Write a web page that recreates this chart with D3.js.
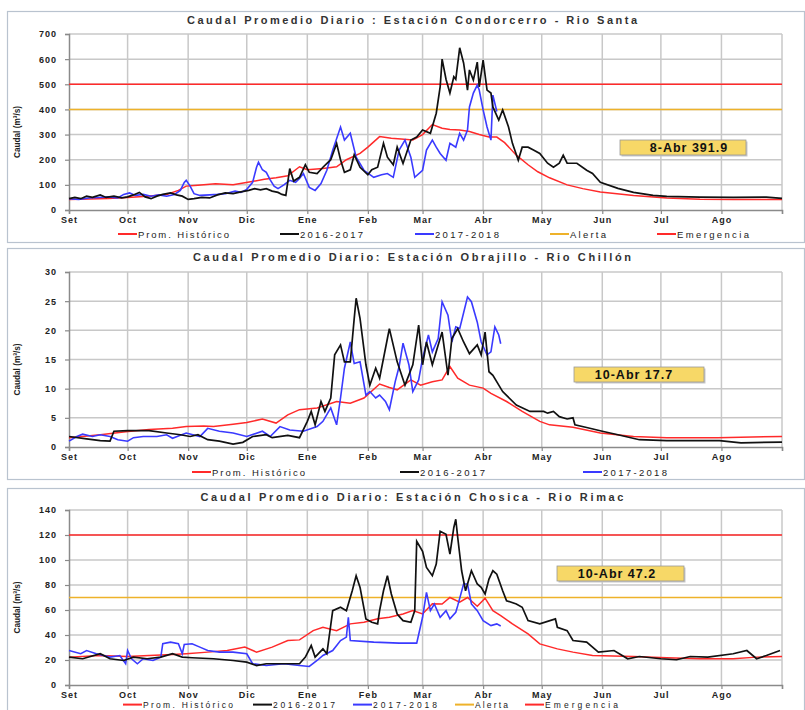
<!DOCTYPE html>
<html>
<head>
<meta charset="utf-8">
<script src="https://cdn.jsdelivr.net/npm/d3@7"></script>
<style>
body { margin: 0; background: #fff; }
svg text { font-family: "Liberation Sans", Arial, sans-serif; }
</style>
</head>
<body>
<svg width="805" height="710"></svg>
<script>
// month labels (season Sep -> Aug)
var months = ["Set", "Oct", "Nov", "Dic", "Ene", "Feb", "Mar", "Abr", "May", "Jun", "Jul", "Ago"];

// [day since 1 Set, value]  -- Condorcerro / Rio Santa
var santaHist = [[0,42],[10,44],[20,46],[30,50],[40,55],[50,62],[56,78],[60,95],[66,98],[75,104],[84,100],[93,112],[100,122],[106,128],[112,136],[118,172],[122,160],[130,165],[137,172],[142,200],[149,225],[153,250],[159,292],[165,285],[170,282],[176,278],[181,300],[186,340],[191,325],[195,320],[200,318],[205,312],[210,300],[215,290],[219,290],[223,268],[229,218],[235,180],[240,152],[246,128],[255,100],[263,85],[272,72],[289,58],[306,48],[323,43],[340,42],[365,42]];
var santa1617 = [[0,45],[3,50],[6,45],[9,55],[12,50],[16,60],[19,50],[23,55],[27,48],[30,52],[33,60],[36,70],[39,52],[42,45],[45,55],[48,62],[52,68],[55,60],[58,55],[61,42],[64,45],[68,50],[72,48],[76,60],[80,68],[84,65],[88,72],[92,78],[95,85],[98,80],[101,85],[104,75],[107,70],[109,62],[111,58],[113,165],[115,115],[118,130],[121,180],[123,150],[127,145],[130,170],[134,200],[137,265],[139,200],[141,150],[144,160],[146,220],[149,170],[153,140],[155,160],[158,170],[161,265],[163,210],[166,180],[168,250],[171,185],[175,278],[178,290],[181,318],[185,305],[188,385],[190,490],[191,600],[193,520],[195,465],[197,530],[198,520],[200,645],[202,585],[204,477],[205,557],[207,517],[209,588],[210,490],[212,596],[214,477],[216,465],[217,410],[220,358],[222,398],[225,330],[227,265],[230,198],[232,250],[235,250],[238,238],[241,225],[245,186],[248,170],[251,186],[253,218],[255,186],[260,186],[265,158],[268,145],[272,110],[281,86],[289,70],[299,58],[306,54],[323,51],[340,50],[357,51],[365,46]];
var santa1718 = [[0,45],[5,42],[10,48],[15,50],[20,52],[25,48],[28,62],[31,68],[34,58],[38,62],[42,55],[46,60],[50,55],[54,62],[57,78],[59,110],[60,118],[62,95],[64,65],[67,58],[72,60],[76,62],[80,65],[85,75],[88,70],[91,82],[94,110],[96,170],[97,190],[99,160],[101,150],[103,120],[105,95],[107,85],[110,100],[113,118],[116,110],[118,125],[120,145],[123,90],[126,78],[129,105],[132,158],[135,238],[139,330],[141,278],[144,305],[147,210],[151,158],[156,130],[160,140],[163,145],[166,130],[169,238],[172,278],[175,210],[177,130],[181,158],[183,238],[186,278],[188,250],[190,225],[193,198],[195,265],[198,250],[200,305],[202,278],[204,318],[205,410],[207,465],[209,497],[210,477],[212,398],[214,330],[216,278],[217,457],[219,392]];

// Obrajillo / Rio Chillon
var chillonHist = [[0,1.6],[16,2.1],[29,2.6],[41,3.0],[53,3.2],[60,3.5],[69,3.6],[74,3.5],[84,3.9],[91,4.2],[99,4.8],[106,4.1],[112,5.5],[118,6.4],[127,6.7],[137,7.8],[144,7.5],[151,8.4],[159,10.8],[164,10.2],[168,9.8],[175,11.5],[180,10.6],[186,11.2],[191,11.5],[195,13.8],[199,11.8],[205,10.6],[212,10.1],[216,9.2],[224,7.8],[232,6.1],[241,4.4],[246,3.8],[258,3.4],[272,2.4],[289,1.8],[306,1.6],[332,1.6],[365,1.8]];
var chillon1617 = [[0,1.8],[9,1.4],[16,1.1],[21,1.0],[23,2.7],[30,2.8],[41,2.8],[50,2.4],[57,2.1],[62,1.8],[66,2.1],[71,1.25],[77,1.0],[84,0.5],[89,0.8],[94,1.8],[101,2.1],[104,1.6],[112,2.0],[118,1.6],[122,4.4],[124,6.1],[126,3.8],[129,7.8],[131,6.1],[134,8.4],[136,15.8],[139,17.5],[141,14.6],[144,14.6],[146,22],[147,25.5],[149,22.0],[152,14.1],[154,10.6],[157,13.5],[159,11.8],[163,18.6],[164,20.3],[168,14.6],[172,10.6],[176,14.1],[179,20.9],[181,14.1],[183,18.0],[186,14.1],[189,17.5],[191,19.7],[194,12.3],[196,18.6],[199,20.3],[202,18.0],[205,16.0],[209,17.5],[211,15.8],[213,19.7],[215,12.9],[217,12.3],[222,9.5],[229,7.2],[236,6.1],[243,6.1],[245,5.8],[248,6.1],[251,5.2],[255,4.8],[258,5.0],[259,3.8],[265,3.35],[273,2.7],[281,2.1],[292,1.25],[306,1.1],[333,1.1],[344,0.7],[365,0.85]];
var chillon1718 = [[0,1.0],[4,1.8],[7,2.2],[12,1.8],[16,2.1],[21,1.8],[25,1.25],[30,1.0],[33,1.6],[38,1.8],[45,1.8],[50,2.1],[53,1.5],[57,2.0],[60,2.4],[67,1.8],[71,3.2],[77,2.7],[84,2.4],[91,1.8],[99,2.7],[103,1.8],[108,3.5],[113,2.9],[120,2.7],[127,3.5],[130,4.4],[134,6.7],[137,3.8],[139,8.4],[141,13.5],[144,18.0],[146,14.3],[149,14.6],[152,8.9],[154,9.5],[157,8.4],[159,8.9],[162,7.8],[164,6.4],[167,11.2],[169,13.8],[171,17.8],[174,14.1],[176,9.5],[179,11.5],[181,15.2],[184,19.2],[186,16.3],[189,18.6],[191,24.9],[194,22.6],[196,18.0],[198,20.6],[200,20.3],[204,25.7],[206,24.9],[209,21.4],[211,18.0],[214,15.8],[216,16.3],[218,20.6],[220,19.2],[221,17.7]];

// Chosica / Rio Rimac
var rimacHist = [[0,22.3],[16,23.6],[30,22.8],[41,23.6],[53,24.4],[60,25.0],[71,26.3],[81,27.6],[90,30.3],[96,26.3],[104,30.3],[112,35.6],[118,36.1],[125,43.5],[130,46.2],[137,43.5],[144,48.9],[151,50.2],[158,53],[164,54.2],[171,56.8],[176,59.5],[181,56.8],[186,65],[191,64.8],[195,70],[200,66.2],[204,70],[209,63],[213,69.5],[217,59.5],[221,55.5],[227,48.9],[235,40.9],[241,32.9],[250,28.9],[258,26.3],[268,23.6],[289,22.8],[306,21.8],[323,21.0],[340,21.0],[352,22.3],[365,22.8]];
var rimac1617 = [[0,22.3],[7,21.0],[16,25.0],[21,21.0],[28,19.6],[33,22.3],[40,21.0],[47,22.3],[53,25.0],[58,22.3],[63,21.8],[74,21.0],[84,19.6],[91,18.3],[96,15.6],[101,17.0],[110,17.0],[118,17.0],[121,22.3],[124,31.6],[126,22.3],[130,28.9],[132,25.0],[135,59.5],[139,62.2],[142,59.5],[145,75.4],[147,87.4],[149,78.1],[152,52.9],[155,50.2],[158,48.9],[159,59.5],[161,75.4],[163,87.4],[165,72.8],[168,56.8],[171,51.5],[175,50.2],[177,59.5],[178,115],[181,107],[183,94],[186,87.4],[188,96.7],[190,123],[193,120.6],[195,104.7],[197,126],[198,132.6],[199,118],[201,91.4],[203,75.4],[204,80.8],[206,91.4],[209,80.8],[211,78.1],[213,72.8],[215,84.7],[217,91.4],[219,88.7],[222,75.4],[224,67.4],[229,64.8],[232,62.2],[235,51.5],[241,48.9],[249,52.9],[250,46.2],[255,43.5],[258,35.6],[265,34.3],[271,26.3],[279,27.6],[286,21.0],[292,22.8],[303,21.0],[311,20.2],[318,22.8],[327,22.3],[340,25.0],[347,27.6],[352,21.0],[357,23.6],[364,27.6]];
var rimac1718 = [[0,27.6],[6,25],[9,27.6],[14,25],[21,22.3],[26,23.6],[29,17.0],[30,27.6],[32,21.0],[35,17],[38,21],[43,19.6],[47,22.3],[48,33],[52,34.3],[56,33],[58,25],[59,32.4],[63,33],[67,30.3],[71,27.6],[77,26.3],[84,26.3],[91,25],[94,17],[101,15.6],[110,17],[118,15.6],[123,14.8],[127,19.6],[130,23.6],[135,27.6],[139,35.6],[142,38.3],[143,54.2],[144,35.6],[156,34.3],[169,33.5],[178,33.5],[181,54.2],[183,74.1],[185,59.5],[187,64.8],[190,54.2],[193,59.5],[195,52.9],[198,58.2],[199,63.5],[202,80.8],[204,80.8],[206,64.8],[209,59.5],[212,51.5],[216,47.5],[219,48.9],[221,47.2]];

var red = "#ff2a2a", black = "#111111", blue = "#3a3aff", orange = "#eeb22a";

var panels = [
  {title: "Caudal Promedio Diario : Estación Condorcerro - Rio Santa", titleLen: 450,
   top: 11, bottom: 242, plotTop: 34, plotBottom: 210, yMax: 700, yStep: 100,
   hist: santaHist, s1: santa1617, s2: santa1718, alerta: 400, emergencia: 500,
   box: {x: 620, y: 140, w: 126, h: 15, tx: 689, text: "8-Abr 391.9"},
   legendY: 234, legendFont: 9.5,
   legend: [["Prom. Histórico", red, 118, 91], ["2016-2017", black, 280, 63], ["2017-2018", blue, 415, 64], ["Alerta", orange, 550, 36], ["Emergencia", red, 657, 72]]},
  {title: "Caudal Promedio Diario: Estación Obrajillo - Rio Chillón", titleLen: 438,
   top: 248, bottom: 479, plotTop: 272, plotBottom: 447, yMax: 30, yStep: 5,
   hist: chillonHist, s1: chillon1617, s2: chillon1718, alerta: null, emergencia: null,
   box: {x: 574, y: 367, w: 130, h: 15, tx: 634, text: "10-Abr 17.7"},
   legendY: 472, legendFont: 9.5,
   legend: [["Prom. Histórico", red, 192, 93], ["2016-2017", black, 400, 65], ["2017-2018", blue, 583, 64]]},
  {title: "Caudal Promedio Diario: Estación Chosica - Rio Rimac", titleLen: 423,
   top: 488, bottom: 730, plotTop: 510, plotBottom: 685, yMax: 140, yStep: 20,
   hist: rimacHist, s1: rimac1617, s2: rimac1718, alerta: 70, emergencia: 120,
   box: {x: 557, y: 566, w: 127, h: 15, tx: 617, text: "10-Abr 47.2"},
   legendY: 704.6, legendFont: 8.5,
   legend: [["Prom. Histórico", red, 123, 90], ["2016-2017", black, 253, 62], ["2017-2018", blue, 353, 64], ["Alerta", orange, 455, 33], ["Emergencia", red, 525, 73]]}
];

var svg = d3.select("svg");
var start = new Date(2016, 8, 1), end = new Date(2017, 8, 1);
var x = d3.scaleTime().domain([start, end]).range([69, 782]);
var monthTicks = d3.timeMonth.range(start, d3.timeDay.offset(end, 1));

var drawPanel = function(p)
{
    var g = svg.append("g");
    var y = d3.scaleLinear().domain([0, p.yMax]).range([p.plotBottom, p.plotTop]);

    g.append("rect")
        .attr("x", 7.5).attr("y", p.top + 0.5)
        .attr("width", 797).attr("height", p.bottom - p.top)
        .attr("fill", "none").attr("stroke", "#b9c3cf").attr("stroke-width", 1.2);

    // grid
    g.selectAll(".hgrid")
        .data(d3.range(p.yStep, p.yMax + p.yStep / 2, p.yStep))
        .enter().append("line")
        .attr("x1", 69).attr("x2", 782)
        .attr("y1", function(v){return y(v);}).attr("y2", function(v){return y(v);})
        .attr("stroke", "#c8c8c8").attr("stroke-width", 1.5);
    g.selectAll(".vgrid")
        .data(monthTicks.slice(1))
        .enter().append("line")
        .attr("x1", function(d){return x(d);}).attr("x2", function(d){return x(d);})
        .attr("y1", p.plotTop).attr("y2", p.plotBottom)
        .attr("stroke", "#c8c8c8").attr("stroke-width", 1.5);

    // axes
    var yAxis = d3.axisLeft(y)
        .tickValues(d3.range(0, p.yMax + 1, p.yStep))
        .tickSize(4).tickPadding(8);
    var ya = g.append("g").attr("transform", "translate(69,0)").call(yAxis);
    var xAxis = d3.axisBottom(x)
        .tickValues(monthTicks)
        .tickSize(4).tickPadding(3)
        .tickFormat(function(d, i){return months[i] || "";});
    var xa = g.append("g").attr("transform", "translate(0," + p.plotBottom + ")").call(xAxis);
    [ya, xa].forEach(function(a)
    {
        a.select(".domain").attr("stroke", "#8a8a8a").attr("stroke-width", 1.5);
        a.selectAll(".tick line").attr("stroke", "#8a8a8a").attr("stroke-width", 1.2);
        a.selectAll("text")
            .attr("font-size", 9).attr("font-weight", "bold")
            .attr("fill", "#222").attr("letter-spacing", 1);
    });

    // threshold lines
    if (p.emergencia != null)
    {
        g.append("line").attr("x1", 69).attr("x2", 782)
            .attr("y1", y(p.emergencia)).attr("y2", y(p.emergencia))
            .attr("stroke", red).attr("stroke-width", 1.6);
        g.append("line").attr("x1", 69).attr("x2", 782)
            .attr("y1", y(p.alerta)).attr("y2", y(p.alerta))
            .attr("stroke", orange).attr("stroke-width", 1.6);
    }

    var line = d3.line()
        .x(function(d){return x(d3.timeDay.offset(start, d[0]));})
        .y(function(d){return y(d[1]);});

    g.append("path").datum(p.hist).attr("d", line)
        .attr("fill", "none").attr("stroke", red).attr("stroke-width", 1.5);
    g.append("path").datum(p.s2).attr("d", line)
        .attr("fill", "none").attr("stroke", blue).attr("stroke-width", 1.6);
    g.append("path").datum(p.s1).attr("d", line)
        .attr("fill", "none").attr("stroke", black).attr("stroke-width", 1.7);

    // title
    g.append("text")
        .attr("x", 412).attr("y", p.top + 13)
        .attr("text-anchor", "middle")
        .attr("font-size", 11).attr("font-weight", "bold").attr("fill", "#333")
        .attr("textLength", p.titleLen).attr("lengthAdjust", "spacing")
        .text(p.title);

    // y label
    var cy = (p.plotTop + p.plotBottom) / 2 + 10;
    g.append("text")
        .attr("transform", "translate(20," + cy + ") rotate(-90)")
        .attr("text-anchor", "middle")
        .attr("font-size", 9).attr("font-weight", "bold").attr("fill", "#222")
        .attr("textLength", 52).attr("lengthAdjust", "spacingAndGlyphs")
        .text("Caudal (m³/s)");

    // value box
    g.append("rect")
        .attr("x", p.box.x + 1.5).attr("y", p.box.y + 1.5)
        .attr("width", p.box.w).attr("height", p.box.h)
        .attr("fill", "#c8c8c8");
    g.append("rect")
        .attr("x", p.box.x).attr("y", p.box.y)
        .attr("width", p.box.w).attr("height", p.box.h)
        .attr("fill", "#f7d867").attr("stroke", "#9a9a9a").attr("stroke-width", 0.8);
    g.append("text")
        .attr("x", p.box.tx).attr("y", p.box.y + p.box.h / 2 + 4.5)
        .attr("text-anchor", "middle")
        .attr("font-size", 12.5).attr("font-weight", "bold").attr("fill", "#111")
        .attr("letter-spacing", 1)
        .text(p.box.text);

    // legend
    var lg = g.selectAll(".leg").data(p.legend).enter().append("g");
    lg.append("line")
        .attr("x1", function(d){return d[2];}).attr("x2", function(d){return d[2] + 19;})
        .attr("y1", p.legendY).attr("y2", p.legendY)
        .attr("stroke", function(d){return d[1];}).attr("stroke-width", 2);
    lg.append("text")
        .attr("x", function(d){return d[2] + 20;}).attr("y", p.legendY + 3.5)
        .attr("font-size", p.legendFont).attr("fill", "#222")
        .attr("textLength", function(d){return d[3];}).attr("lengthAdjust", "spacing")
        .text(function(d){return d[0];});
};

panels.forEach(drawPanel);
</script>
</body>
</html>
